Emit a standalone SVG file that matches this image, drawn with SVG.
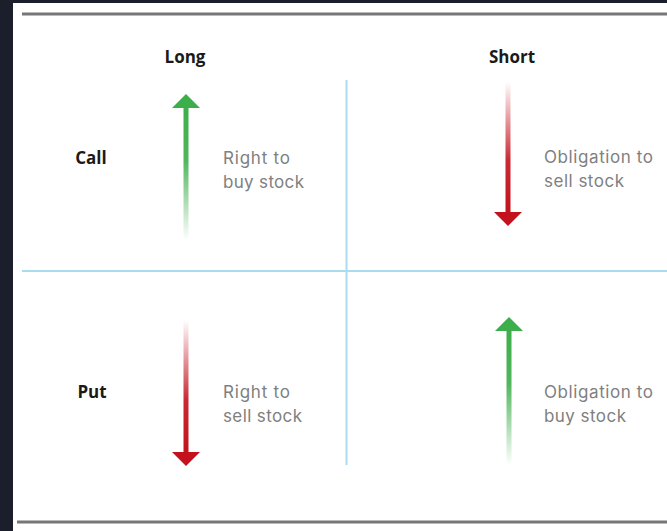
<svg xmlns="http://www.w3.org/2000/svg" width="667" height="531" viewBox="0 0 667 531">
<defs>
<linearGradient id="gUp" x1="0" y1="1" x2="0" y2="0"><stop offset="0" stop-color="#3cae4a" stop-opacity="0"/><stop offset="0.6" stop-color="#3cae4a" stop-opacity="0.9"/><stop offset="1" stop-color="#3cae4a"/></linearGradient>
<linearGradient id="rDown" x1="0" y1="0" x2="0" y2="1"><stop offset="0" stop-color="#c3121d" stop-opacity="0"/><stop offset="0.6" stop-color="#c3121d" stop-opacity="0.9"/><stop offset="1" stop-color="#c3121d"/></linearGradient>
<style>
.hdr{font-family:"Open Sans","Liberation Sans",sans-serif;font-weight:700;font-size:17px;fill:#1a1a1a;text-anchor:middle}
.lbl{font-family:Inter,"Open Sans","Liberation Sans",sans-serif;font-size:17px;fill:#808080}
.grid{stroke:#a9dcef;stroke-width:2;fill:none}
.rule{stroke:#777;stroke-width:3}
</style>
</defs>
<rect width="667" height="531" fill="#1b1f2b"/>
<rect x="13" y="3" width="654" height="528" fill="#fff"/>
<line class="rule" x1="22" y1="14" x2="667" y2="14"/>
<line class="rule" x1="17" y1="522" x2="667" y2="522"/>
<g id="connectors">
<line class="grid" x1="22" y1="271" x2="667" y2="271"/>
<line class="grid" x1="346.5" y1="80" x2="346.5" y2="465"/>
</g>
<g id="long"><text class="hdr" x="185" y="63">Long</text></g>
<g id="short"><text class="hdr" x="512" y="63">Short</text></g>
<g id="call"><text class="hdr" x="91" y="164">Call</text></g>
<g id="put"><text class="hdr" x="92" y="398">Put</text></g>
<g id="long-call">
<rect x="183.5" y="106" width="5" height="134" fill="url(#gUp)"/>
<polygon points="172,108 186,94 200,108" fill="#3cae4a"/>
<text class="lbl" x="223" y="164" textLength="67">Right to</text>
<text class="lbl" x="223" y="188" textLength="81">buy stock</text>
</g>
<g id="short-call">
<rect x="505.5" y="82" width="5" height="131" fill="url(#rDown)"/>
<polygon points="494,212 522,212 508,226" fill="#c3121d"/>
<text class="lbl" x="544" y="163" textLength="109">Obligation to</text>
<text class="lbl" x="544" y="187" textLength="80">sell stock</text>
</g>
<g id="long-put">
<rect x="183.5" y="320" width="5" height="133" fill="url(#rDown)"/>
<polygon points="172,452 200,452 186,466" fill="#c3121d"/>
<text class="lbl" x="223" y="398" textLength="67">Right to</text>
<text class="lbl" x="223" y="422" textLength="79">sell stock</text>
</g>
<g id="short-put">
<rect x="506.5" y="329" width="5" height="136" fill="url(#gUp)"/>
<polygon points="495,331 509,317 523,331" fill="#3cae4a"/>
<text class="lbl" x="544" y="398" textLength="109">Obligation to</text>
<text class="lbl" x="544" y="422" textLength="82">buy stock</text>
</g>
</svg>
